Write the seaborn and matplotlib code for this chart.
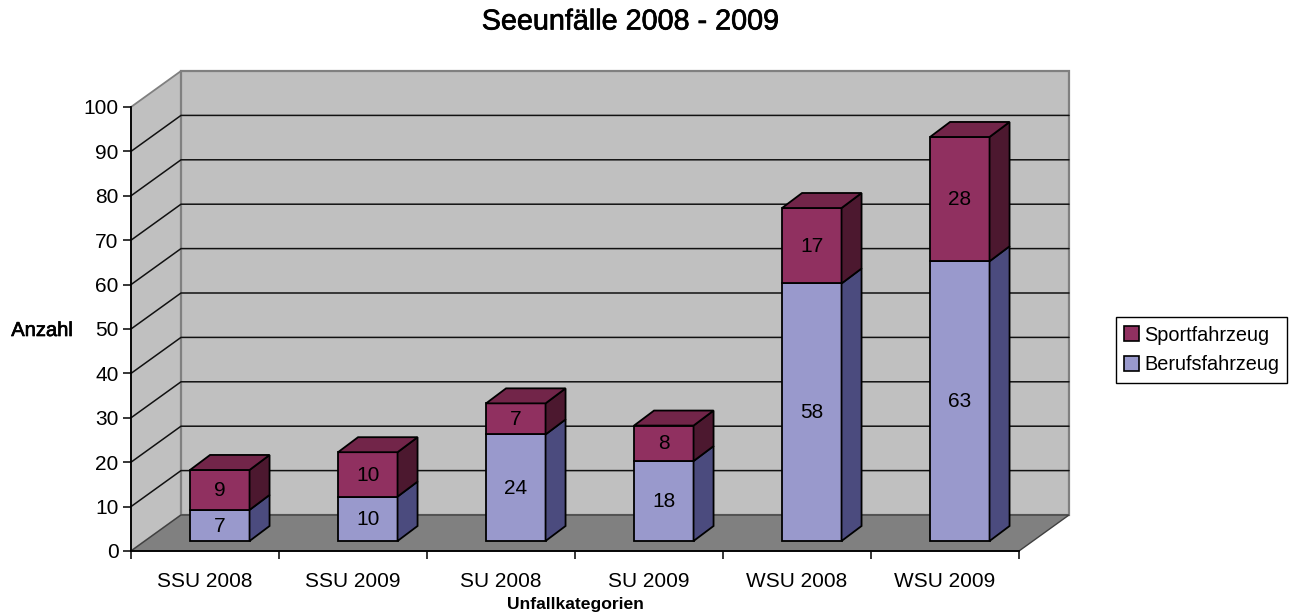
import matplotlib
matplotlib.use("Agg")
import matplotlib.pyplot as plt
import matplotlib.patheffects as pe
from matplotlib.patches import Polygon, Patch, Rectangle
import seaborn as sns

# data
categories = ["SSU 2008", "SSU 2009", "SU 2008", "SU 2009", "WSU 2008", "WSU 2009"]
berufsfahrzeug = [7, 10, 24, 18, 58, 63]
sportfahrzeug = [9, 10, 7, 8, 17, 28]
y_ticks = list(range(0, 101, 10))

sns.set_theme(style="white")
plt.rcParams["font.family"] = ["Liberation Sans", "DejaVu Sans"]

W, H = 1293, 616
fig = plt.figure(figsize=(W / 100, H / 100), dpi=100)
ax = fig.add_axes([131 / W, (H - 551) / H, 888 / W, 444 / H])

# depth of the fake 3d box, in data units
unit_x = 148.0
unit_y = 4.44
wall_dx = 50 / unit_x
wall_dy = 36 / unit_y
bar_dx = 20 / unit_x
bar_dy = 15 / unit_y
shift_x = 14.8 / unit_x
shift_y = 10 / unit_y


def side_and_top(bar, side_col, top_col=None):
    x0, y0 = bar.get_x(), bar.get_y()
    x1, y1 = x0 + bar.get_width(), y0 + bar.get_height()
    ax.add_patch(Polygon([(x1, y0), (x1 + bar_dx, y0 + bar_dy), (x1 + bar_dx, y1 + bar_dy), (x1, y1)],
                         fc=side_col, ec="black", lw=1.3, zorder=2, clip_on=False))
    if top_col:
        ax.add_patch(Polygon([(x0, y1), (x0 + bar_dx, y1 + bar_dy), (x1 + bar_dx, y1 + bar_dy), (x1, y1)],
                             fc=top_col, ec="black", lw=1.3, zorder=2, clip_on=False))


# walls and floor
x_l, x_r = -0.5, 5.5
ax.add_patch(Polygon([(x_l, 0), (x_l + wall_dx, wall_dy), (x_l + wall_dx, 100 + wall_dy), (x_l, 100)],
                     fc="#c0c0c0", ec="#808080", lw=1.3, zorder=0.5, clip_on=False))
ax.add_patch(Polygon([(x_l + wall_dx, wall_dy), (x_r + wall_dx, wall_dy), (x_r + wall_dx, 100 + wall_dy), (x_l + wall_dx, 100 + wall_dy)],
                     fc="#c0c0c0", ec="#808080", lw=1.6, zorder=0.5, clip_on=False))
ax.add_patch(Polygon([(x_l, 0), (x_r, 0), (x_r + wall_dx, wall_dy), (x_l + wall_dx, wall_dy)],
                     fc="#808080", ec="#404040", lw=1, zorder=0.6, clip_on=False))

# grid lines run along the side wall and the back wall
for v in y_ticks[1:-1]:
    ax.plot([x_l, x_l + wall_dx, x_r + wall_dx], [v, v + wall_dy, v + wall_dy],
            color="#111111", lw=1.1, zorder=0.7, clip_on=False)

sns.barplot(x=categories, y=berufsfahrzeug, color="#9999cc", saturation=1, width=0.402,
            edgecolor="black", linewidth=1.3, zorder=2, ax=ax)
sns.barplot(x=categories, y=sportfahrzeug, bottom=berufsfahrzeug, color="#903060", saturation=1, width=0.402,
            edgecolor="black", linewidth=1.3, zorder=2, ax=ax)

bars = [p for p in ax.patches if isinstance(p, Rectangle)]
n_low = len(categories)
for bar in bars:
    bar.set_x(bar.get_x() + shift_x)
    bar.set_y(bar.get_y() + shift_y)
    bar.set_clip_on(False)

for bar, val in zip(bars[:n_low], berufsfahrzeug):
    side_and_top(bar, "#4b4b7e")
    ax.text(bar.get_x() + bar.get_width() / 2, bar.get_y() + bar.get_height() / 2 - 0.15, str(val),
            ha="center", va="center", fontsize=15, color="black", zorder=3)
for bar, val in zip(bars[n_low:], sportfahrzeug):
    side_and_top(bar, "#4c182f", "#722549")
    ax.text(bar.get_x() + bar.get_width() / 2, bar.get_y() + bar.get_height() / 2 - 0.15, str(val),
            ha="center", va="center", fontsize=15, color="black", zorder=3)

ax.set_xlim(x_l, x_r)
ax.set_ylim(0, 100)
ax.set_facecolor("none")
ax.set_xticks([i - 0.5 for i in range(len(categories) + 1)])
ax.set_xticklabels([])
ax.set_xticks(range(len(categories)), minor=True)
ax.set_xticklabels(categories, minor=True, fontsize=15, color="black")
ax.set_yticks(y_ticks)
ax.set_yticklabels([str(v) for v in y_ticks], fontsize=15, color="black", va="center_baseline")
ax.tick_params(axis="x", which="major", bottom=True, length=6, width=1.1, color="black")
ax.tick_params(axis="x", which="minor", bottom=False, length=0, pad=15)
ax.tick_params(axis="y", left=True, length=6, width=1.1, color="black", pad=3)
sns.despine(ax=ax, top=True, right=True)
for s in ["left", "bottom"]:
    ax.spines[s].set_color("black")
    ax.spines[s].set_linewidth(1.3)
    ax.spines[s].set_zorder(2.5)
ax.set_xlabel("")
ax.set_ylabel("")

# labels look slightly emboldened in the original
fat = [pe.withStroke(linewidth=0.5, foreground="black")]
fig.text(630.5 / W, 1 - 21.5 / H, "Seeunfälle 2008 - 2009", ha="center", va="center",
         fontsize=20.7, color="black", path_effects=fat)
fig.text(42 / W, 1 - 330.5 / H, "Anzahl", ha="center", va="center",
         fontsize=14.5, color="black", path_effects=fat)
fig.text(575 / W, 1 - 604 / H, "Unfallkategorien", ha="center", va="center",
         fontsize=12.6, fontweight="bold", color="black")

handles = [Patch(fc="#903060", ec="black", lw=1.2, label="Sportfahrzeug"),
           Patch(fc="#9999cc", ec="black", lw=1.2, label="Berufsfahrzeug")]
leg = ax.legend(handles=handles, loc="center", bbox_to_anchor=(1201.5 / W, 1 - 350 / H),
                bbox_transform=fig.transFigure, fontsize=14.3, labelcolor="black", frameon=True, fancybox=False,
                edgecolor="black", framealpha=1, borderpad=0.42, labelspacing=0.55,
                handlelength=0.75, handleheight=0.75, handletextpad=0.25, borderaxespad=0)
leg.get_frame().set_linewidth(1)

fig.savefig("out.png", dpi=100)
